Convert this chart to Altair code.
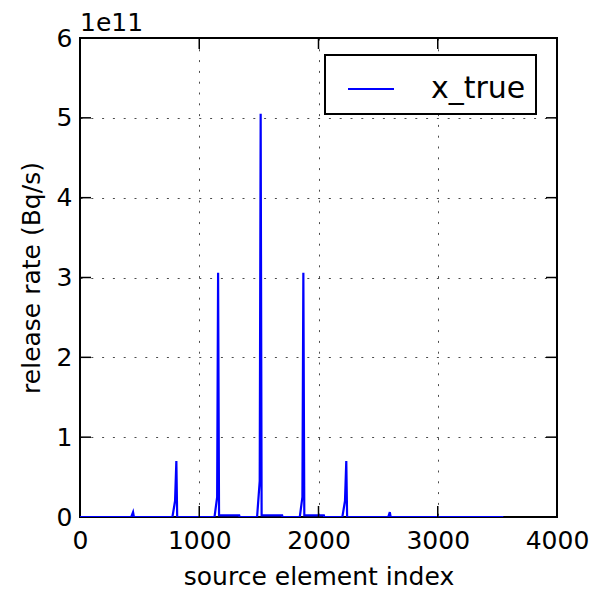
import altair as alt
import pandas as pd

# source element index and release rate (in units of 1e11 Bq/s)
idx = [0, 430, 445, 452, 775, 797, 808, 815,
       1128, 1150, 1158, 1166, 1335, 1338,
       1485, 1507, 1515, 1523, 1695, 1698,
       1843, 1865, 1873, 1881, 2045, 2048,
       2200, 2222, 2233, 2240, 2585, 2598, 2605, 3550]
rate = [0, 0, 0.06, 0, 0, 0.2, 0.70, 0,
        0, 0.25, 3.06, 0.02, 0.02, 0,
        0, 0.45, 5.05, 0.02, 0.02, 0,
        0, 0.25, 3.06, 0.02, 0.02, 0,
        0, 0.2, 0.70, 0, 0, 0.06, 0, 0]
series_name = "x_true"
x_ticks = [0, 1000, 2000, 3000, 4000]
y_ticks = [0, 1, 2, 3, 4, 5, 6]
x_inner_ticks = [1000, 2000, 3000]
y_inner_ticks = [1, 2, 3, 4, 5]
offset_label = ["1e11"]

df = pd.DataFrame({"index": idx, "rate": rate, "series": [series_name] * len(idx)})
W, H = 477, 479
FONT = "DejaVu Sans"
TICK = 11

xs = alt.Scale(domain=[0, 4000], nice=False, zero=False)
ys = alt.Scale(domain=[0, 6], nice=False)
x_axis = alt.Axis(values=x_ticks, title="source element index", format="d",
                  labelPadding=11, titlePadding=11, labelFlush=False, labelOverlap=False)
y_axis = alt.Axis(values=y_ticks, title="release rate (Bq/s)", format="d",
                  labelPadding=8, titlePadding=12, labelFlush=False, labelOverlap=False)

line = alt.Chart(df).mark_line(strokeWidth=2.2, clip=True).encode(
    x=alt.X("index:Q", scale=xs, axis=x_axis),
    y=alt.Y("rate:Q", scale=ys, axis=y_axis),
    color=alt.Color("series:N", scale=alt.Scale(range=["#0000ff"]),
                    legend=alt.Legend(title=None, orient="none", legendX=245, legendY=17,
                                      symbolType="stroke", symbolSize=2116,
                                      symbolStrokeWidth=2, symbolOffset=12,
                                      labelOffset=36, labelFontSize=30, labelFont=FONT,
                                      labelColor="black", padding=10,
                                      strokeColor="black", fillColor="white")),
)

xt = pd.DataFrame({"index": x_inner_ticks})
yt = pd.DataFrame({"rate": y_inner_ticks})
rule_kw = dict(color="black", strokeWidth=1.5)
xb = alt.Chart(xt).mark_rule(**rule_kw).encode(
    x=alt.X("index:Q", scale=xs, axis=x_axis), y=alt.value(H), y2=alt.value(H - TICK))
xtp = alt.Chart(xt).mark_rule(**rule_kw).encode(
    x=alt.X("index:Q", scale=xs, axis=x_axis), y=alt.value(0), y2=alt.value(TICK))
yl = alt.Chart(yt).mark_rule(**rule_kw).encode(
    y=alt.Y("rate:Q", scale=ys, axis=y_axis), x=alt.value(0), x2=alt.value(TICK))
yr = alt.Chart(yt).mark_rule(**rule_kw).encode(
    y=alt.Y("rate:Q", scale=ys, axis=y_axis), x=alt.value(W - TICK), x2=alt.value(W))

off = alt.Chart(pd.DataFrame({"label": offset_label})).mark_text(
    align="left", baseline="alphabetic", fontSize=25, font=FONT, color="black"
).encode(x=alt.value(0), y=alt.value(-7), text="label:N")

chart = alt.layer(line, xb, xtp, yl, yr, off).properties(
    width=W, height=H,
    autosize=alt.AutoSizeParams(type="none"),
    padding={"left": 80, "top": 38, "right": 35, "bottom": 74},
    background="white",
).configure_view(
    stroke="black", strokeWidth=2
).configure_axis(
    domain=False, ticks=False, grid=True,
    gridColor="black", gridDash=[2, 8.8], gridWidth=1, gridOpacity=0.7,
    labelFont=FONT, titleFont=FONT, labelFontSize=25, titleFontSize=25,
    titleFontWeight="normal", labelColor="black", titleColor="black",
).configure_legend(strokeWidth=2)

chart.save("out.html", embed_options={"renderer": "svg", "actions": False})
